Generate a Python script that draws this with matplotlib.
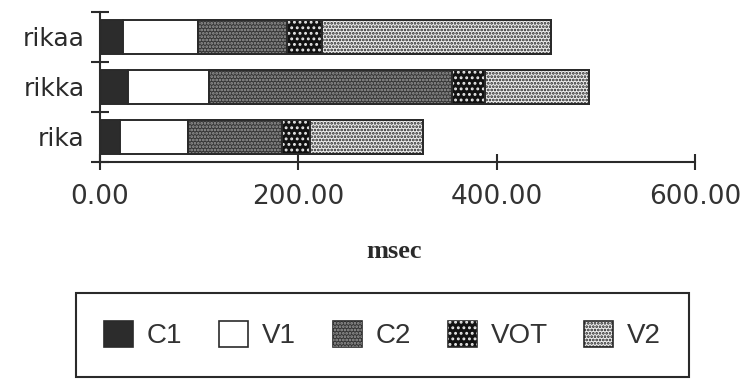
import matplotlib
matplotlib.use("Agg")
import matplotlib.pyplot as plt
from matplotlib.patches import Patch

# durations of each segment, msec
words = ["rika", "rikka", "rikaa"]
c1 = [20, 28, 23]
v1 = [69, 82, 76]
c2 = [95, 245, 90]
vot = [28, 33, 35]
v2 = [114, 105, 231]

seg_names = ["C1", "V1", "C2", "VOT", "V2"]
seg_values = [c1, v1, c2, vot, v2]
# (face, hatch, hatch colour)
seg_styles = [
    ("#2c2c2c", "", "#2c2c2c"),
    ("#ffffff", "", "#ffffff"),
    ("#363636", ".....", "#9c9c9c"),
    ("#121212", "...", "#e8e8e8"),
    ("#eeeeee", ".....", "#1e1e1e"),
]

plt.rcParams["hatch.linewidth"] = 1.3
ink = "#2a2a2a"

fig = plt.figure(figsize=(7.49, 3.80), dpi=100)
ax = fig.add_axes([100 / 749, 218 / 380, 595 / 749, 150 / 380])

handles = []
left = [0] * len(words)
for name, vals, (face, hatch, hcol) in zip(seg_names, seg_values, seg_styles):
    ax.barh(words, vals, left=left, height=0.68, color=face,
            edgecolor=ink, linewidth=1.4, zorder=2)
    if hatch:
        ax.barh(words, vals, left=left, height=0.68, color="none",
                edgecolor=hcol, hatch=hatch, linewidth=0, zorder=3)
        # redraw outline on top of the dots
        ax.barh(words, vals, left=left, height=0.68, color="none",
                edgecolor=ink, linewidth=1.4, zorder=4)
    left = [l + v for l, v in zip(left, vals)]
    base = Patch(facecolor=face, edgecolor=ink, linewidth=1.2)
    if hatch:
        dots = Patch(facecolor="none", edgecolor=hcol, hatch=hatch, linewidth=0)
        handles.append((base, dots))
    else:
        handles.append(base)

ax.set_xlim(0, 600)
ax.set_ylim(-0.5, 2.5)
ax.set_xticks([0, 200, 400, 600])
ax.set_xticklabels(["0.00", "200.00", "400.00", "600.00"])
ax.set_yticks([-0.5, 0.5, 1.5, 2.5], minor=True)

for side in ["top", "right"]:
    ax.spines[side].set_visible(False)
for side in ["left", "bottom"]:
    ax.spines[side].set_linewidth(1.5)
    ax.spines[side].set_color(ink)

ax.tick_params(axis="x", direction="inout", length=12, width=1.5, color=ink,
               pad=10, labelsize=19, labelcolor="#333333")
ax.tick_params(axis="y", which="major", length=0, pad=11,
               labelsize=18, labelcolor=ink)
ax.tick_params(axis="y", which="minor", direction="inout", length=13,
               width=1.5, color=ink)
for lab in ax.get_xticklabels() + ax.get_yticklabels():
    lab.set_family("DejaVu Sans")

ax.set_xlabel("msec", family="Liberation Serif", weight="bold",
              fontsize=19, color=ink, va="center")
ax.xaxis.set_label_coords(0.494, -0.6)

leg = fig.legend(handles, seg_names, loc="center", ncol=5, mode="expand",
                 bbox_to_anchor=(76 / 749, 2 / 380, 613 / 749, 86 / 380),
                 handlelength=1.05, handleheight=1.05, handletextpad=0.5,
                 borderpad=1.0, borderaxespad=0, fancybox=False, framealpha=1,
                 prop={"family": "Liberation Sans", "size": 20})
leg.get_frame().set_edgecolor(ink)
leg.get_frame().set_linewidth(1.5)
for t in leg.get_texts():
    t.set_color("#333333")

fig.savefig("out.png", dpi=100)
